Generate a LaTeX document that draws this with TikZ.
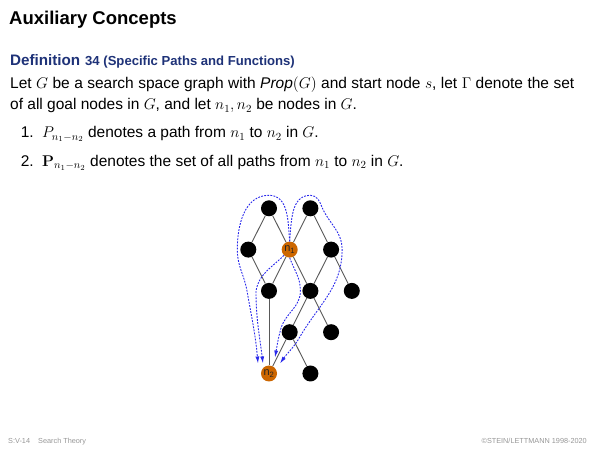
\RequirePackage{fix-cm}
\documentclass[tikz,border=0pt]{standalone}
\usepackage{amsmath,amssymb}
\usepackage[no-math]{fontspec}
\setmainfont{Liberation Sans}
\usetikzlibrary{arrows.meta,calc}

\definecolor{defblue}{RGB}{30,50,120}
\definecolor{nodeorange}{RGB}{204,102,0}
\definecolor{pathblue}{RGB}{40,40,235}
\definecolor{footgray}{RGB}{150,150,150}

\begin{document}
\begin{tikzpicture}[
  x=1pt, y=1pt,
  >=Latex,
  txt/.style={inner sep=0pt, anchor=base west},
  body/.style={txt, font=\fontsize{15.5}{21}\selectfont},
  foot/.style={txt, text=footgray, font=\fontsize{7.3}{8}\selectfont},
  vert/.style={circle, fill=black, minimum size=16pt, inner sep=0pt},
  goal/.style={vert, fill=nodeorange, text=black!85, font=\fontsize{11}{11}\selectfont},
  link/.style={line width=.9pt, draw=black!65},
  route/.style={-{Latex[length=7pt,width=4pt]}, line width=.9pt, draw=pathblue, dash pattern=on 1.8pt off 1.3pt}
]
\useasboundingbox (0,0) rectangle (600,450);

\node[txt, font=\fontsize{18.5}{22}\selectfont\bfseries] (title) at (9,425) {Auxiliary Concepts};
\node[txt, text=defblue, font=\fontsize{15.2}{18}\selectfont\bfseries] (defn) at (10,384.5) {Definition};
\node[txt, text=defblue, font=\fontsize{13.1}{16}\selectfont\bfseries] (deftitle) at (85,384.5) {34 (Specific Paths and Functions)};
\node[body] (line1) at (10,361) {\makebox[564pt][s]{Let $G$ be a search space graph with \textit{Prop}$(G)$ and start node $s$, let $\Gamma$ denote the set}};
\node[body] (line2) at (10,340) {of all goal nodes in $G$, and let $n_1, n_2$ be nodes in $G$.};
\node[body, anchor=base east] (num1) at (34,312) {1.};
\node[body] (item1) at (42,312) {$P_{n_1-n_2}$ denotes a path from $n_1$ to $n_2$ in $G$.};
\node[body, anchor=base east] (num2) at (34,283.5) {2.};
\node[body] (item2) at (42,283.5) {$\mathbf{P}_{n_1-n_2}$ denotes the set of all paths from $n_1$ to $n_2$ in $G$.};

\begin{scope}[shift={(269pt,241.7pt)}, x=20.7pt, y=41.3pt]
\node[vert] (tl) at (0,0) {};
\node[vert] (tr) at (2,0) {};
\node[vert] (l) at (-1,-1) {};
\node[goal] (n1) at (1,-1) {n\textsubscript{1}};
\node[vert] (r) at (3,-1) {};
\node[vert] (m1) at (0,-2) {};
\node[vert] (m2) at (2,-2) {};
\node[vert] (m3) at (4,-2) {};
\node[vert] (k1) at (1,-3) {};
\node[vert] (k2) at (3,-3) {};
\node[goal] (n2) at (0,-4) {n\textsubscript{2}};
\node[vert] (k3) at (2,-4) {};
\end{scope}

\draw[link] (tl) -- (l);
\draw[link] (tl) -- (n1);
\draw[link] (tr) -- (n1);
\draw[link] (tr) -- (r);
\draw[link] (l) -- (m1);
\draw[link] (n1) -- (m1);
\draw[link] (n1) -- (m2);
\draw[link] (r) -- (m2);
\draw[link] (r) -- (m3);
\draw[link] (m1) -- (n2);
\draw[link] (m2) -- (k1);
\draw[link] (m2) -- (k2);
\draw[link] (k1) -- (n2);
\draw[link] (k1) -- (k3);

% The four paths from n1 to n2.
\draw[route] (n1.north) to[out=95,in=0] ($(tl)+(0pt,13pt)$) to[out=180,in=90] ($(l)+(-11pt,0pt)$) to[out=-90,in=100] ($(m1)+(-22pt,0pt)$) to[out=-80,in=95] ($(n2)+(-11pt,10pt)$);
\draw[route] (n1.south west) to[out=225,in=80] ($(m1)+(-13pt,0pt)$) to[out=-90,in=97] ($(n2)+(-6pt,10pt)$);
\draw[route] (n1.south) to[out=-70,in=90] ($(m2)+(-10pt,0pt)$) to[out=-90,in=75] ($(k1)+(-9pt,3pt)$) to[out=-105,in=80] ($(n2)+(6pt,16pt)$);
\draw[route] (n1.north) to[out=85,in=180] ($(tr)+(0pt,13pt)$) to[out=0,in=110] ($(tr)+(12pt,0pt)$) to[out=-65,in=90] ($(r)+(11pt,0pt)$) to[out=-90,in=60] ($(k1)+(10pt,-5pt)$) to[out=240,in=55] ($(n2)+(11pt,10pt)$);

\node[foot] (pageno) at (8,6) {S:V-14};
\node[foot] (topic) at (38,6) {Search Theory};
\node[foot, anchor=base east] (rights) at (587,6) {©STEIN/LETTMANN 1998-2020};
\end{tikzpicture}
\end{document}
